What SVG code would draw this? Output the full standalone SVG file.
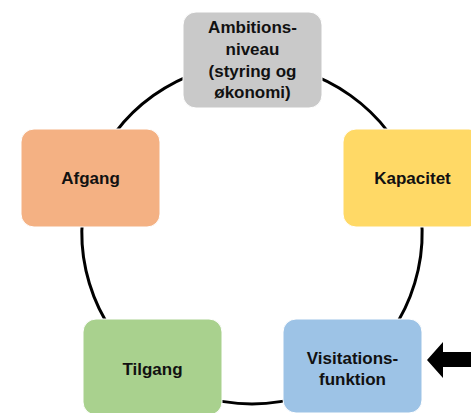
<svg xmlns="http://www.w3.org/2000/svg" width="471" height="413" viewBox="0 0 471 413">
<style>
.box{stroke:#ffffff;stroke-width:1}
.lbl{font-family:"Liberation Sans",Arial,sans-serif;font-weight:bold;font-size:17px;fill:#111111;text-anchor:middle}
.arc{fill:none;stroke:#000000;stroke-width:3}
</style>
<rect width="471" height="413" fill="#ffffff"/>
<g id="connectors">
<path class="arc" d="M252,64 A170,170 0 0 1 412.4,177.8"/>
<path class="arc" d="M412.4,177.8 A170,170 0 0 1 354.5,369.6"/>
<path class="arc" d="M354.5,369.6 A170,170 0 0 1 149.5,369.6"/>
<path class="arc" d="M149.5,369.6 A170,170 0 0 1 91.3,178.6"/>
<path class="arc" d="M91.3,178.6 A170,170 0 0 1 252,64"/>
<polygon points="427,360 443,342 443,352 471,352 471,367 443,367 443,378" fill="#000000"/>
</g>
<g id="ambitionsniveau">
<rect class="box" x="183" y="12" width="139" height="96" rx="13" fill="#C9C9C9"/>
<text class="lbl" x="252.5" y="33">Ambitions-</text>
<text class="lbl" x="252.5" y="55">niveau</text>
<text class="lbl" x="252.5" y="77">(styring og</text>
<text class="lbl" x="252.5" y="98">økonomi)</text>
</g>
<g id="kapacitet">
<rect class="box" x="343" y="129" width="139" height="98" rx="13" fill="#FFD966"/>
<text class="lbl" x="412.5" y="184">Kapacitet</text>
</g>
<g id="visitationsfunktion">
<rect class="box" x="283" y="319" width="139" height="94" rx="13" fill="#9DC3E6"/>
<text class="lbl" x="352.5" y="364">Visitations-</text>
<text class="lbl" x="352.5" y="385">funktion</text>
</g>
<g id="tilgang">
<rect class="box" x="83" y="319" width="139" height="96" rx="13" fill="#A9D18E"/>
<text class="lbl" x="152.5" y="375">Tilgang</text>
</g>
<g id="afgang">
<rect class="box" x="21" y="129" width="139" height="98" rx="13" fill="#F4B183"/>
<text class="lbl" x="90.5" y="184">Afgang</text>
</g>
</svg>
